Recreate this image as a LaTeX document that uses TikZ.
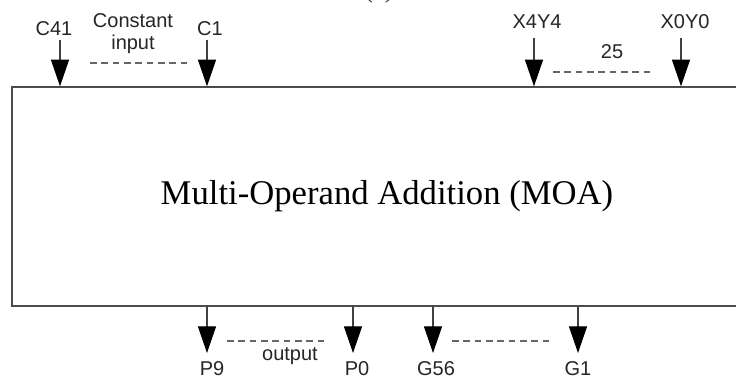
\documentclass[tikz,border=0pt]{standalone}
\usepackage{fontspec}
\setmainfont{Liberation Sans}
\newfontfamily\seriffont{Liberation Serif}
\usetikzlibrary{arrows.meta}
\begin{document}
\begin{tikzpicture}[x=0.75pt,y=-0.75pt,
  lbl/.style={font=\fontsize{15}{17}\selectfont, text=black!85, inner sep=0pt, anchor=base},
  arr/.style={draw=black!75, line width=0.9pt, -{Triangle[width=13.5pt,length=20pt,color=black,fill=black]}},
  dline/.style={draw=black!60, line width=0.8pt, dash pattern=on 5pt off 3.5pt},
  mainbox/.style={draw=black!70, line width=1pt, inner sep=0pt, minimum width=562.5pt, minimum height=164.25pt,
    font=\seriffont\fontsize{26}{30}\selectfont, text=black}]
\useasboundingbox (0,0) rectangle (736,380);
\clip (0,0) rectangle (736,380);
\fill[white] (0,0) rectangle (736,380);

% partly visible caption at the top
\node[font=\seriffont\fontsize{20}{24}\selectfont, anchor=base, text=black!80] (cap) at (379,-3) {(a)};

% main block
\node[mainbox] (moa) at (387,196.5) {Multi-Operand Addition (MOA)};

% top inputs
\coordinate (c41s) at (60,40);
\coordinate (c1s) at (207,40);
\coordinate (x4s) at (534,38);
\coordinate (x0s) at (681,38);
\draw[arr] (c41s) -- (c41s |- moa.north);
\draw[arr] (c1s) -- (c1s |- moa.north);
\draw[arr] (x4s) -- (x4s |- moa.north);
\draw[arr] (x0s) -- (x0s |- moa.north);

\node[lbl] (c41) at (54,35) {C41};
\node[lbl] (c1) at (210,35) {C1};
\node[lbl] (const) at (133,27) {Constant};
\node[lbl] (inp) at (133,49) {input};
\node[lbl] (x4) at (537,28) {X4Y4};
\node[lbl] (x0) at (685,28) {X0Y0};
\node[lbl] (n25) at (612,58) {25};

\coordinate (dl1a) at (90,63);
\coordinate (dl1b) at (187,63);
\draw[dline] (dl1a) -- (dl1b);
\coordinate (dl2a) at (553,72);
\coordinate (dl2b) at (652,72);
\draw[dline] (dl2a) -- (dl2b);

% bottom outputs
\coordinate (p9e) at (207,353);
\coordinate (p0e) at (353,353);
\coordinate (g56e) at (433,353);
\coordinate (g1e) at (578,353);
\draw[arr] (p9e |- moa.south) -- (p9e);
\draw[arr] (p0e |- moa.south) -- (p0e);
\draw[arr] (g56e |- moa.south) -- (g56e);
\draw[arr] (g1e |- moa.south) -- (g1e);

\node[lbl] (p9) at (212,375) {P9};
\node[lbl] (p0) at (357,375) {P0};
\node[lbl] (g56) at (436,375) {G56};
\node[lbl] (g1) at (578,375) {G1};
\node[lbl] (outp) at (290,360) {output};

\coordinate (dl3a) at (227,341);
\coordinate (dl3b) at (325,341);
\draw[dline] (dl3a) -- (dl3b);
\coordinate (dl4a) at (452,341);
\coordinate (dl4b) at (550,341);
\draw[dline] (dl4a) -- (dl4b);
\end{tikzpicture}
\end{document}
